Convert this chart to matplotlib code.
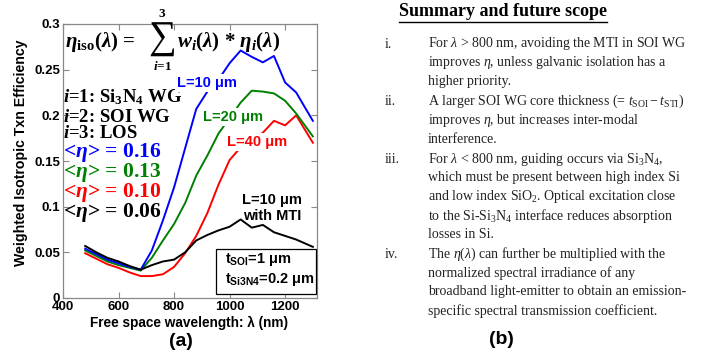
import matplotlib
matplotlib.use('Agg')
import matplotlib.pyplot as plt
from matplotlib.patches import Rectangle
from matplotlib.lines import Line2D

plt.rcParams['mathtext.fontset'] = 'custom'
plt.rcParams['mathtext.rm'] = 'Liberation Serif'
plt.rcParams['mathtext.it'] = 'Liberation Serif:italic'
plt.rcParams['mathtext.bf'] = 'Liberation Serif:bold'
plt.rcParams['mathtext.sf'] = 'Liberation Sans:bold'
try:
    plt.rcParams['mathtext.bfit'] = 'Liberation Serif:bold:italic'
except KeyError:
    pass

# wavelength (nm) and efficiencies
wavelength = [480, 520, 560, 600, 640, 680, 720, 760, 800, 840, 880,
              920, 960, 1000, 1040, 1080, 1120, 1160, 1200, 1240, 1300]
eta_10 = [0.054, 0.048, 0.042, 0.038, 0.034, 0.031, 0.052, 0.085, 0.121, 0.164, 0.207,
          0.226, 0.239, 0.257, 0.271, 0.264, 0.258, 0.265, 0.236, 0.225, 0.194]
eta_20 = [0.052, 0.046, 0.040, 0.036, 0.033, 0.030, 0.044, 0.063, 0.081, 0.104, 0.134,
          0.156, 0.180, 0.197, 0.214, 0.227, 0.226, 0.224, 0.216, 0.202, 0.177]
eta_40 = [0.049, 0.043, 0.037, 0.033, 0.028, 0.024, 0.024, 0.026, 0.034, 0.049, 0.068,
          0.093, 0.124, 0.151, 0.165, 0.173, 0.181, 0.194, 0.189, 0.200, 0.170]
eta_mti = [0.057, 0.050, 0.044, 0.040, 0.035, 0.031, 0.036, 0.040, 0.042, 0.050, 0.063,
           0.069, 0.074, 0.078, 0.086, 0.077, 0.080, 0.072, 0.068, 0.064, 0.056]

mean_labels = ['0.16', '0.13', '0.10', '0.06']
xticks = [400, 600, 800, 1000, 1200]
yticks = [0, 0.05, 0.1, 0.15, 0.2, 0.25, 0.3]
ytick_labels = ['0', '0.05', '0.1', '0.15', '0.2', '0.25', '0.3']

summary = [
    ('i.', ['For $\\lambda$ > 800 nm, avoiding the MTI in SOI WG',
            'improves $\\eta$, unless galvanic isolation has a',
            'higher priority.']),
    ('ii.', ['A larger SOI WG core thickness (= $t_{\\rm SOI} - t_{\\rm STI}$)',
             'improves $\\eta$, but increases inter-modal',
             'interference.']),
    ('iii.', ['For $\\lambda$ < 800 nm, guiding occurs via Si$_3$N$_4$,',
              'which must be present between high index Si',
              'and low index SiO$_2$. Optical excitation close',
              'to the Si-Si$_3$N$_4$ interface reduces absorption',
              'losses in Si.']),
    ('iv.', ['The $\\eta(\\lambda)$ can further be multiplied with the',
             'normalized spectral irradiance of any',
             'broadband light-emitter to obtain an emission-',
             'specific spectral transmission coefficient.']),
]

W, H = 713, 354
fig = plt.figure(figsize=(W / 100, H / 100), dpi=100)
fig.patch.set_facecolor('white')


def fx(px):
    return px / W


def fy(py):
    return 1 - py / H


SANS = 'Liberation Sans'
SERIF = 'Liberation Serif'
BLUE = '#0000ff'
GREEN = '#008000'
RED = '#ff0000'

ax = fig.add_axes([fx(63), fy(298), fx(317) - fx(63), fy(24) - fy(298)])
ax.plot(wavelength, eta_40, color=RED, lw=1.4)
ax.plot(wavelength, eta_20, color=GREEN, lw=1.4)
ax.plot(wavelength, eta_10, color=BLUE, lw=1.4)
ax.plot(wavelength, eta_mti, color='black', lw=1.4)
ax.set_xlim(400, 1315)
ax.set_ylim(0, 0.3)
ax.set_xticks(xticks)
ax.set_xticklabels([str(v) for v in xticks])
ax.set_yticks(yticks)
ax.set_yticklabels(ytick_labels)
ax.tick_params(direction='in', length=4, top=True, right=True, color='#888888',
               labelsize=9.5, pad=2)
for lab in ax.get_xticklabels() + ax.get_yticklabels():
    lab.set_fontweight('bold')
    lab.set_family(SANS)
for s in ax.spines.values():
    s.set_color('#888888')
    s.set_linewidth(0.9)

fig.text(fx(21), fy(153), 'Weighted Isotropic Txn Efficiency', rotation=90,
         ha='center', va='center', fontsize=10.2, fontweight='bold', family=SANS)
fig.text(fx(189), fy(323), 'Free space wavelength: λ (nm)', ha='center', va='center',
         fontsize=9.8, fontweight='bold', family=SANS)
fig.text(fx(181), fy(342), '(a)', ha='center', va='center', fontsize=14,
         fontweight='bold', family=SANS)

# formula
fig.text(fx(65), fy(42), r'$\mathbfit{\eta}_{\mathbf{iso}}\mathbf{(}\mathbfit{\lambda}\mathbf{)}$ =',
         ha='left', va='center', fontsize=15, fontweight='bold', family=SERIF)
fig.text(fx(162), fy(39), '∑', ha='center', va='center', fontsize=28, family=SERIF)
fig.text(fx(162), fy(14), '3', ha='center', va='center', fontsize=9.5, fontweight='bold',
         family=SERIF)
fig.text(fx(163), fy(66), r'$\mathbfit{i}$=1', ha='center', va='center', fontsize=9.5,
         fontweight='bold', family=SERIF)
fig.text(fx(177), fy(42),
         r'$\mathbfit{w}_{\mathbfit{i}}\mathbf{(}\mathbfit{\lambda}\mathbf{)}$ * '
         r'$\mathbfit{\eta}_{\mathbfit{i}}\mathbf{(}\mathbfit{\lambda}\mathbf{)}$',
         ha='left', va='center', fontsize=15, fontweight='bold', family=SERIF)

list_lines = [r'$\mathbfit{i}$=1: Si$_\mathbf{3}$N$_\mathbf{4}$ WG',
              r'$\mathbfit{i}$=2: SOI WG',
              r'$\mathbfit{i}$=3: LOS']
for txt, py in zip(list_lines, [97, 117, 134]):
    fig.text(fx(63), fy(py), txt, ha='left', va='center', fontsize=13.5,
             fontweight='bold', family=SERIF)

for txt, col, py in zip(mean_labels, [BLUE, GREEN, RED, 'black'], [152, 172, 193, 213]):
    fig.text(fx(63), fy(py), r'<$\mathbfit{\eta}$> = ' + txt, ha='left', va='center',
             fontsize=15.5, fontweight='bold', family=SERIF, color=col)

# curve labels
box = dict(facecolor='white', edgecolor='none', pad=1.5)
fig.text(fx(207), fy(83), 'L=10 μm', ha='center', va='center', fontsize=10.5,
         fontweight='bold', family=SANS, color=BLUE, bbox=box)
fig.text(fx(233), fy(117), 'L=20 μm', ha='center', va='center', fontsize=10.5,
         fontweight='bold', family=SANS, color=GREEN, bbox=box)
fig.text(fx(257), fy(142), 'L=40 μm', ha='center', va='center', fontsize=10.5,
         fontweight='bold', family=SANS, color=RED, bbox=box)
fig.text(fx(272), fy(208), 'L=10 μm\nwith MTI', ha='center', va='center', fontsize=10.5,
         fontweight='bold', family=SANS, color='black', linespacing=1.15)

fig.add_artist(Rectangle((fx(216), fy(294)), fx(316) - fx(216), fy(249) - fy(294),
                         transform=fig.transFigure, facecolor='white',
                         edgecolor='black', lw=0.9))
fig.text(fx(225), fy(259), r't$_{\mathsf{SOI}}$=1 μm', ha='left', va='center',
         fontsize=10.5, fontweight='bold', family=SANS)
fig.text(fx(225), fy(280), r't$_{\mathsf{Si3N4}}$=0.2 μm', ha='left', va='center',
         fontsize=10.5, fontweight='bold', family=SANS)

# right panel
title = fig.text(fx(503), fy(12), 'Summary and future scope', ha='center', va='center',
                 fontsize=13, fontweight='bold', family=SERIF)
fig.canvas.draw()
bb = title.get_window_extent(fig.canvas.get_renderer())
fig.add_artist(Line2D([bb.x0 / W, bb.x1 / W], [(bb.y0 - 1) / H, (bb.y0 - 1) / H],
                      transform=fig.transFigure, color='black', lw=1))

line_no = 0
for item_no, (num, lines) in enumerate(summary):
    for k, txt in enumerate(lines):
        py = 44 + 18.8 * line_no + 1.2 * item_no
        if k == 0:
            fig.text(fx(385), fy(py), num, ha='left', va='center', fontsize=10,
                     family=SERIF, color='#222222')
        fig.text(fx(428), fy(py), txt, ha='left', va='center', fontsize=10,
                 family=SERIF, color='#222222')
        line_no += 1

fig.text(fx(501), fy(340), '(b)', ha='center', va='center', fontsize=14,
         fontweight='bold', family=SANS)

fig.savefig('out.png', dpi=100)
